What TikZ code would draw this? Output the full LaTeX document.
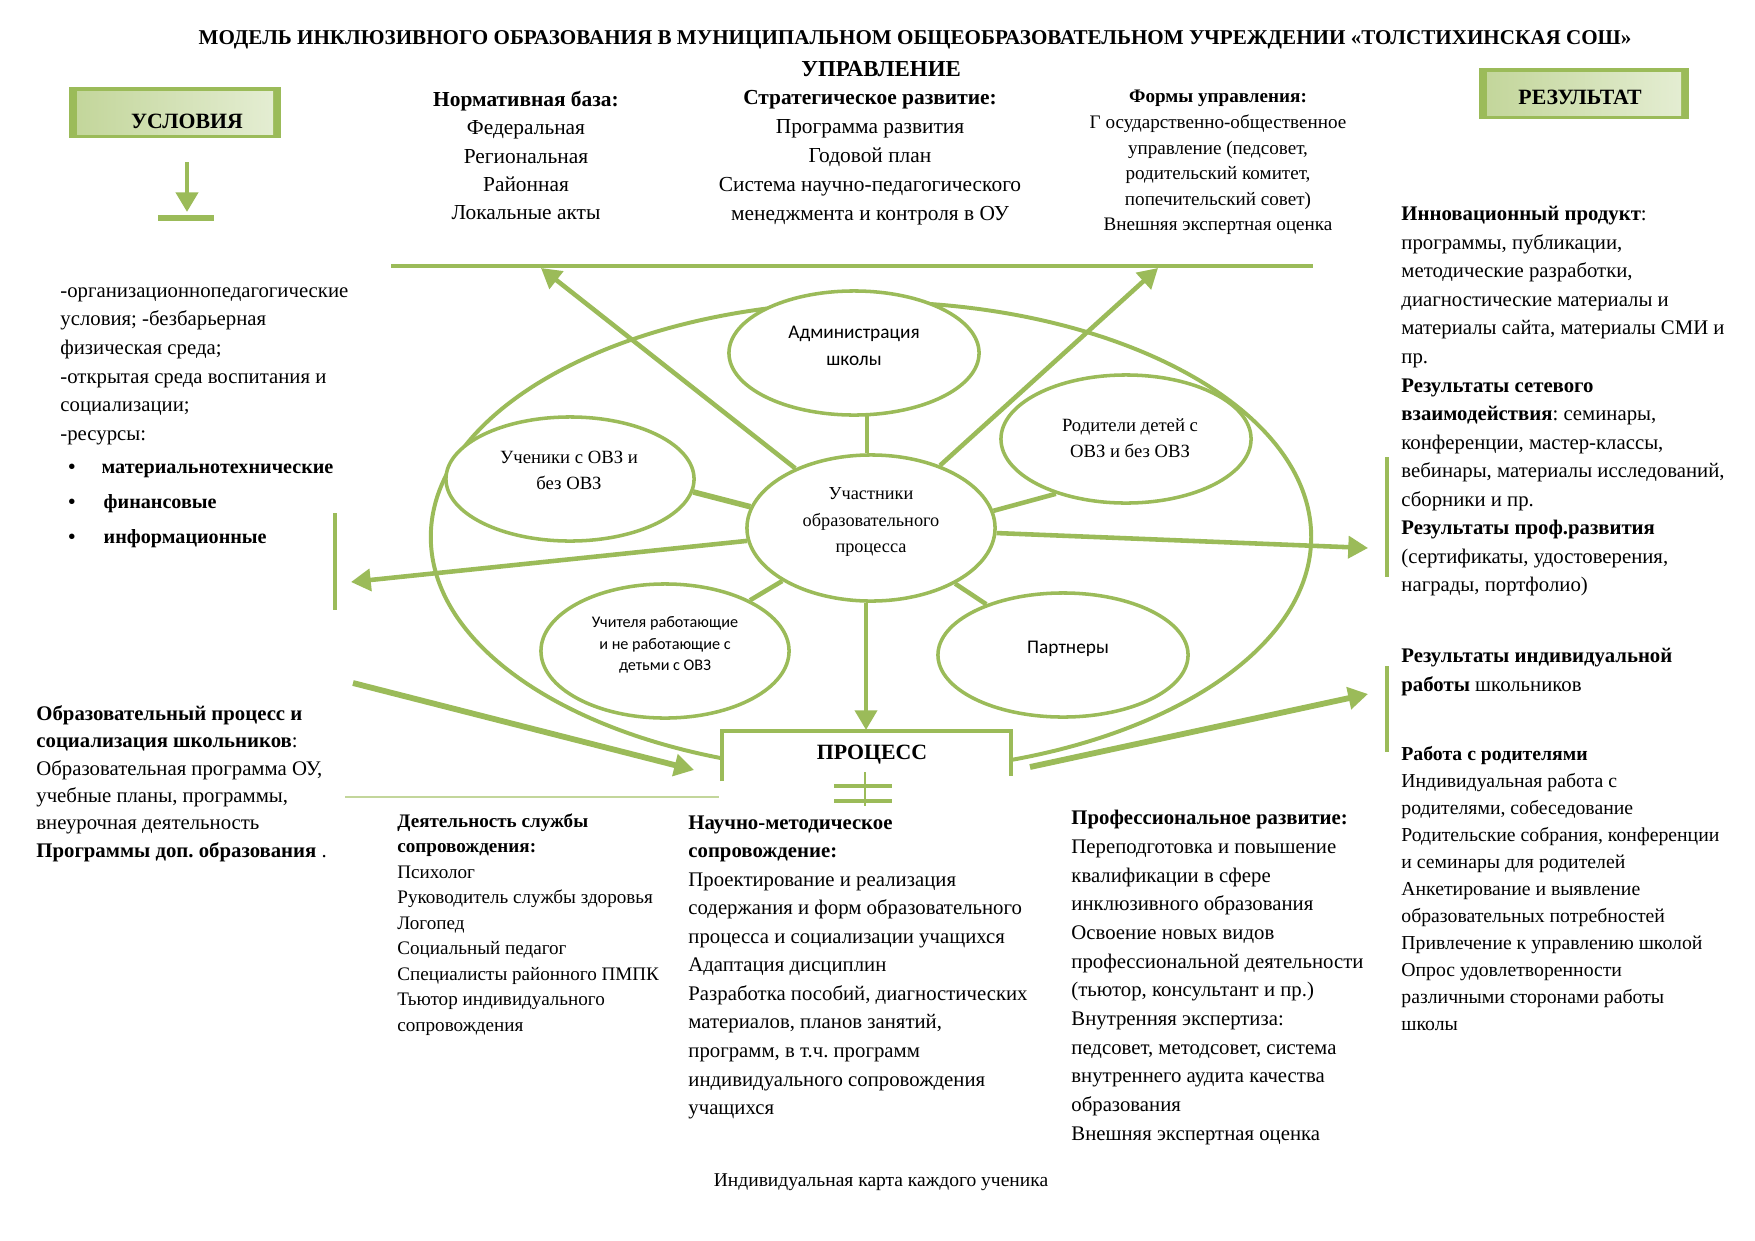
\documentclass[tikz,border=0pt]{standalone}
\usepackage{fontspec}
\setmainfont{Liberation Serif}
\newfontfamily\sansf{Carlito}
\usetikzlibrary{arrows.meta,shapes.geometric}
\definecolor{gr}{HTML}{9BBB59}
\definecolor{grl}{HTML}{C3D69B}
\definecolor{grll}{HTML}{E4EDD2}
\def\pxu{0.4817pt}
\newcommand\fs[2]{\fontsize{#1}{#2}\selectfont}
\frenchspacing
\begin{document}
\begin{tikzpicture}[x=0.016923cm,y=-0.016923cm,
  ell/.style={ellipse,draw=gr,line width=1.7pt,fill=white,inner sep=0},
  link/.style={draw=gr,line width=2.2pt},
  arr/.style={draw=gr,line width=2.2pt,-{Triangle[length=9.5pt,width=10.5pt]}},
  blk/.style={anchor=north west,inner sep=0,align=left},
  cblk/.style={anchor=north,inner sep=0,align=center},
  lbl/.style={inner sep=0,align=center},
  bar/.style={draw=gr,line width=1.6pt},
]
\useasboundingbox (0,0) rectangle (1755,1240);
\fill[white] (0,0) rectangle (1755,1240);

% ---------- title ----------
\node[lbl,font=\bfseries\fs{10.15}{12}] (title) at (915,40) {МОДЕЛЬ ИНКЛЮЗИВНОГО ОБРАЗОВАНИЯ В МУНИЦИПАЛЬНОМ ОБЩЕОБРАЗОВАТЕЛЬНОМ УЧРЕЖДЕНИИ «ТОЛСТИХИНСКАЯ СОШ»};
\node[lbl,font=\bfseries\fs{11}{13}] (upr) at (881,69) {УПРАВЛЕНИЕ};

% ---------- header boxes ----------
\node[fill=gr,inner sep=0,minimum width=212*\pxu,minimum height=51*\pxu] (uslbox) at (175,112.5) {};
\shade[left color=grl,middle color=white,right color=grll] (77,91) rectangle (273,134);
\node[lbl,font=\bfseries\fs{10.5}{12}] (usl) at (187,121) {УСЛОВИЯ};

\node[fill=gr,inner sep=0,minimum width=210*\pxu,minimum height=51*\pxu] (resbox) at (1584,93.5) {};
\shade[left color=grl,middle color=white,right color=grll] (1487,72) rectangle (1681,115);
\node[lbl,font=\bfseries\fs{10.5}{12}] (res) at (1580,97) {РЕЗУЛЬТАТ};

\coordinate (dA) at (187,162);
\coordinate (dB) at (187,212);
\draw[arr,line width=2.4pt] (dA) -- (dB);
\coordinate (b1) at (158,218);
\coordinate (b2) at (214,218);
\draw[gr,line width=2.6pt] (b1) -- (b2);

% ---------- management ----------
\node[cblk,font=\fs{10.3}{13.6}] (norm) at (526,91) {\textbf{Нормативная база:}\\Федеральная\\Региональная\\Районная\\Локальные акты};
\node[cblk,font=\fs{10.3}{14}] (strat) at (870,90) {\textbf{Стратегическое развитие:}\\Программа развития\\Годовой план\\Система научно-педагогического\\менеджмента и контроля в ОУ};
\node[cblk,font=\fs{9.2}{12.3}] (form) at (1218,90) {\textbf{Формы управления:}\\Г осударственно-общественное\\управление (педсовет,\\родительский комитет,\\попечительский совет)\\Внешняя экспертная оценка};

\coordinate (tl1) at (391,266);
\coordinate (tl2) at (1313,266);
\draw[gr,line width=2.3pt] (tl1) -- (tl2);

% ---------- big ellipse & participants ----------
\node[ellipse,draw=gr,line width=1.9pt,inner sep=0,minimum width=880*\pxu,minimum height=470*\pxu] (big) at (871,537) {};

\coordinate (tA) at (541,268);
\coordinate (tB) at (1158,268);

\node[ell,minimum width=250*\pxu,minimum height=124*\pxu] (adm) at (854,353) {};
\node[ell,minimum width=250*\pxu,minimum height=128*\pxu] (rod) at (1126,439) {};
\node[ell,minimum width=248*\pxu,minimum height=124*\pxu] (uch) at (570,479) {};
\node[ell,minimum width=248*\pxu,minimum height=146*\pxu] (ctr) at (871,528) {};
\node[ell,minimum width=248*\pxu,minimum height=134*\pxu] (tea) at (665,651) {};
\node[ell,minimum width=250*\pxu,minimum height=124*\pxu] (par) at (1063,655) {};

\draw[arr] (ctr) -- (tA);
\draw[arr] (ctr) -- (tB);

\node[lbl,font=\sansf\fs{9.3}{13}] (admT) at (854,346) {Администрация\\школы};
\node[lbl,font=\fs{9}{12.6}] (rodT) at (1130,438) {Родители детей с\\ОВЗ и без ОВЗ};
\node[lbl,font=\fs{9}{12.6}] (uchT) at (569,470) {Ученики с ОВЗ и\\без ОВЗ};
\node[lbl,font=\fs{8.8}{12.6}] (ctrT) at (871,522) {Участники\\образовательного\\процесса};
\node[lbl,font=\sansf\fs{7.8}{10.3}] (teaT) at (665,645) {Учителя работающие\\и не работающие с\\детьми с ОВЗ};
\node[lbl,font=\sansf\fs{9.3}{12}] (parT) at (1068,649) {Партнеры};

\coordinate (admL) at (867,414);
\draw[link] (ctr.north -| admL) -- (admL);
\draw[link,line width=2.7pt] (uch.-6) -- (ctr.170);
\draw[link] (rod.218) -- (ctr.8);
\draw[link] (tea) -- (ctr);
\draw[link] (par) -- (ctr);

% ---------- side arrows ----------
\coordinate (tL) at (351,582);
\coordinate (tR) at (1368,548);
\draw[arr] (ctr) -- (tL);
\draw[arr] (ctr) -- (tR);
\coordinate (vL1) at (335,513);
\coordinate (vL2) at (335,610);
\draw[bar] (vL1) -- (vL2);
\coordinate (vR1) at (1387,457);
\coordinate (vR2) at (1387,577);
\draw[bar] (vR1) -- (vR2);
\coordinate (vR3) at (1387,666);
\coordinate (vR4) at (1387,752);
\draw[bar] (vR3) -- (vR4);

% ---------- process box ----------
\fill[white] (720,731) rectangle (1013,783);
\coordinate (pb1) at (722,781);
\coordinate (pb2) at (722,731);
\coordinate (pb3) at (1011,731);
\coordinate (pb4) at (1011,776);
\draw[gr,line width=1.7pt] (pb1) -- (pb2) -- (pb3) -- (pb4);
\node[lbl,font=\bfseries\fs{10.5}{12}] (proc) at (872,755) {ПРОЦЕСС};
\coordinate (tD) at (866,730);
\draw[arr] (ctr.south -| tD) -- (tD);

\coordinate (aL1) at (353,683);
\coordinate (aL2) at (694,770);
\draw[arr,line width=2.8pt] (aL1) -- (aL2);
\coordinate (aR1) at (1030,767);
\coordinate (aR2) at (1368,694);
\draw[arr,line width=2.8pt] (aR1) -- (aR2);

\coordinate (eq1) at (834,786);
\coordinate (eq2) at (892,786);
\coordinate (eq3) at (834,801);
\coordinate (eq4) at (892,801);
\coordinate (eq5) at (865,772);
\coordinate (eq6) at (865,806);
\draw[gr,line width=2pt] (eq1) -- (eq2);
\draw[gr,line width=2pt] (eq3) -- (eq4);
\draw[gr,line width=1.2pt] (eq5) -- (eq6);

\coordinate (hl1) at (345,797);
\coordinate (hl2) at (719,797);
\draw[grl,line width=1pt] (hl1) -- (hl2);

% ---------- left texts ----------
\node[blk,font=\fs{10}{13.8}] (cond) at (60,287) {-организационнопедагогические\\условия; -безбарьерная\\физическая среда;\\-открытая среда воспитания и\\социализации;\\-ресурсы:};
\node[blk,font=\bfseries\fs{9.7}{16.7}] (bul) at (68,464) {\makebox[16pt][l]{•}материальнотехнические\\\makebox[17pt][l]{•}финансовые\\\makebox[17pt][l]{•}информационные};

\node[blk,font=\fs{10}{13.2}] (obr) at (36,705) {\textbf{Образовательный процесс и}\\\textbf{социализация школьников}:\\Образовательная программа ОУ,\\учебные планы, программы,\\внеурочная деятельность\\\textbf{Программы доп. образования} .};

% ---------- bottom texts ----------
\node[blk,font=\fs{9.2}{12.3}] (sluzh) at (397,813) {\textbf{Деятельность службы}\\\textbf{сопровождения:}\\Психолог\\Руководитель службы здоровья\\Логопед\\Социальный педагог\\Специалисты районного ПМПК\\Тьютор индивидуального\\сопровождения};

\node[blk,font=\fs{10}{13.75}] (nauch) at (688,815) {\textbf{Научно-методическое}\\\textbf{сопровождение:}\\Проектирование и реализация\\содержания и форм образовательного\\процесса и социализации учащихся\\Адаптация дисциплин\\Разработка пособий, диагностических\\материалов, планов занятий,\\программ, в т.ч. программ\\индивидуального сопровождения\\учащихся};

\node[blk,font=\fs{10}{13.8}] (prof) at (1071,810) {\textbf{Профессиональное развитие:}\\Переподготовка и повышение\\квалификации в сфере\\инклюзивного образования\\Освоение новых видов\\профессиональной деятельности\\(тьютор, консультант и пр.)\\Внутренняя экспертиза:\\педсовет, методсовет, система\\внутреннего аудита качества\\образования\\Внешняя экспертная оценка};

\node[lbl,font=\fs{9.4}{12}] (card) at (881,1182) {Индивидуальная карта каждого ученика};

% ---------- right texts ----------
\node[blk,font=\fs{10}{13.75}] (innov) at (1401,206) {\textbf{Инновационный продукт}:\\программы, публикации,\\методические разработки,\\диагностические материалы и\\материалы сайта, материалы СМИ и\\пр.\\\textbf{Результаты сетевого}\\\textbf{взаимодействия}: семинары,\\конференции, мастер-классы,\\вебинары, материалы исследований,\\сборники и пр.\\\textbf{Результаты проф.развития}\\(сертификаты, удостоверения,\\награды, портфолио)};

\node[blk,font=\fs{10}{13.8}] (indiv) at (1401,648) {\textbf{Результаты индивидуальной}\\\textbf{работы} школьников};

\node[blk,font=\fs{9.5}{13}] (parents) at (1401,746) {\textbf{Работа с родителями}\\Индивидуальная работа с\\родителями, собеседование\\Родительские собрания, конференции\\и семинары для родителей\\Анкетирование и выявление\\образовательных потребностей\\Привлечение к управлению школой\\Опрос удовлетворенности\\различными сторонами работы\\школы};
\end{tikzpicture}
\end{document}
